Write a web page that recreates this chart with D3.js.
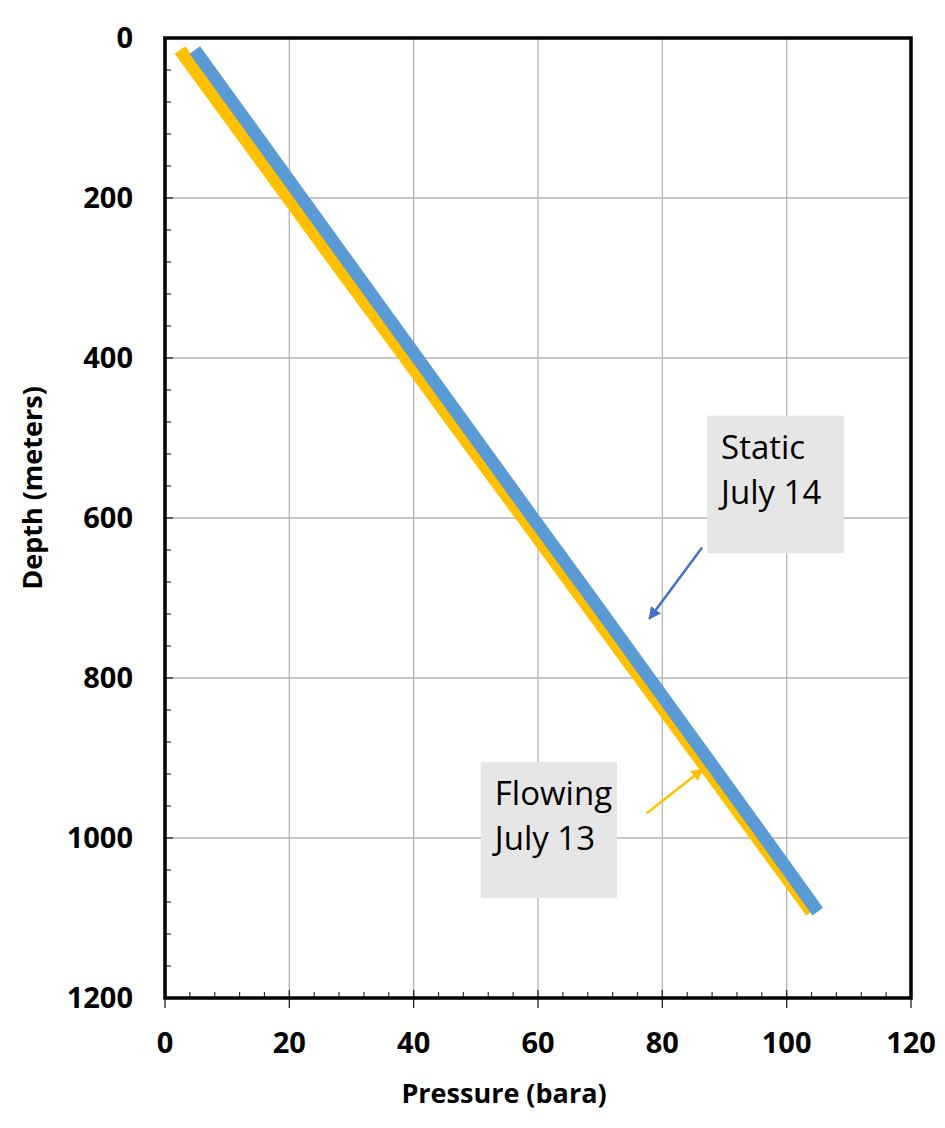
<!DOCTYPE html>
<html>
<head>
<meta charset="utf-8">
<script src="https://cdn.jsdelivr.net/npm/d3@7"></script>
<style>
  body { margin: 0; background: #fff; }
  text { font-family: "Open Sans", "Noto Sans", sans-serif; }
</style>
</head>
<body>
<div id="root"></div>
<script>
// readings (depth in m, pressure in bara)
const depths = [15, 100, 200, 300, 400, 500, 600, 700, 800, 900, 1000, 1092];
const staticPressure = [4.8, 12.7, 22.0, 31.3, 40.6, 49.9, 59.2, 68.6, 77.9, 87.2, 96.5, 105.0];
const flowingPressure = [2.4, 10.4, 19.8, 29.2, 38.7, 48.1, 57.6, 67.0, 76.4, 85.9, 95.3, 104.0];

const xTicks = [0, 20, 40, 60, 80, 100, 120];
const yTicks = [0, 200, 400, 600, 800, 1000, 1200];

const annotations = [
  { lines: ["Static", "July 14"], box: [87.2, 472, 109.2, 644], arrow: [[86.4, 637], [77.9, 726]], color: "#4472C4" },
  { lines: ["Flowing", "July 13"], box: [50.8, 905, 72.7, 1075], arrow: [[77.5, 969], [86.5, 914]], color: "#FFC000" }
];

function createChart() {
  const width = 945, height = 1128;
  const left = 165, right = 911, top = 38, bottom = 998;

  const x = d3.scaleLinear().domain([0, 120]).range([left, right]);
  const y = d3.scaleLinear().domain([0, 1200]).range([top, bottom]);

  const svg = d3.select("#root").append("svg")
    .attr("width", width)
    .attr("height", height);

  // grid
  svg.append("g").selectAll("line").data(xTicks.slice(1, -1)).enter().append("line")
    .attr("x1", d => x(d)).attr("x2", d => x(d))
    .attr("y1", top).attr("y2", bottom)
    .attr("stroke", "#b4b4b4").attr("stroke-width", 1.3);
  svg.append("g").selectAll("line").data(yTicks.slice(1, -1)).enter().append("line")
    .attr("y1", d => y(d)).attr("y2", d => y(d))
    .attr("x1", left).attr("x2", right)
    .attr("stroke", "#b4b4b4").attr("stroke-width", 1.3);

  // minor ticks (inside)
  const xMinor = d3.range(4, 120, 4).filter(d => d % 20 !== 0);
  svg.append("g").selectAll("line").data(xMinor).enter().append("line")
    .attr("x1", d => x(d)).attr("x2", d => x(d))
    .attr("y1", bottom).attr("y2", bottom - 6)
    .attr("stroke", "#333").attr("stroke-width", 1.2);
  const yMinor = d3.range(40, 1200, 40).filter(d => d % 200 !== 0);
  svg.append("g").selectAll("line").data(yMinor).enter().append("line")
    .attr("y1", d => y(d)).attr("y2", d => y(d))
    .attr("x1", left).attr("x2", left + 6)
    .attr("stroke", "#333").attr("stroke-width", 1.2);

  // major ticks crossing the axes
  svg.append("g").selectAll("line").data(xTicks).enter().append("line")
    .attr("x1", d => x(d)).attr("x2", d => x(d))
    .attr("y1", bottom - 8).attr("y2", bottom + 10)
    .attr("stroke", "#222").attr("stroke-width", 1.3);
  svg.append("g").selectAll("line").data(yTicks).enter().append("line")
    .attr("y1", d => y(d)).attr("y2", d => y(d))
    .attr("x1", left - 2).attr("x2", left + 8)
    .attr("stroke", "#222").attr("stroke-width", 1.3);

  // frame
  svg.append("rect")
    .attr("x", left).attr("y", top)
    .attr("width", right - left).attr("height", bottom - top)
    .attr("fill", "none").attr("stroke", "#000").attr("stroke-width", 3.5);

  // tick labels
  svg.append("g").selectAll("text").data(xTicks).enter().append("text")
    .attr("x", d => x(d)).attr("y", bottom + 55)
    .attr("text-anchor", "middle")
    .attr("font-size", 29).attr("font-weight", "bold")
    .text(d => d);
  svg.append("g").selectAll("text").data(yTicks).enter().append("text")
    .attr("x", left - 32).attr("y", d => y(d) + 10)
    .attr("text-anchor", "end")
    .attr("font-size", 29).attr("font-weight", "bold")
    .text(d => d);

  // axis titles
  svg.append("text")
    .attr("x", 504).attr("y", 1103)
    .attr("text-anchor", "middle")
    .attr("font-size", 27).attr("font-weight", "bold")
    .text("Pressure (bara)");
  svg.append("text")
    .attr("transform", "translate(42,488) rotate(-90)")
    .attr("text-anchor", "middle")
    .attr("font-size", 27).attr("font-weight", "bold")
    .text("Depth (meters)");

  // series
  const line = vals => d3.line()
    .x((d, i) => x(vals[i]))
    .y(d => y(d))(depths);

  svg.append("path")
    .attr("d", line(flowingPressure))
    .attr("fill", "none").attr("stroke", "#FFC000").attr("stroke-width", 13);
  svg.append("path")
    .attr("d", line(staticPressure))
    .attr("fill", "none").attr("stroke", "#5B9BD5").attr("stroke-width", 13);

  // annotations
  const defs = svg.append("defs");
  annotations.forEach((a, k) => {
    defs.append("marker")
      .attr("id", "arr" + k)
      .attr("viewBox", "0 0 10 10")
      .attr("refX", 9).attr("refY", 5)
      .attr("markerWidth", 5).attr("markerHeight", 5)
      .attr("orient", "auto")
      .append("path").attr("d", "M0,0 L10,5 L0,10 z").attr("fill", a.color);

    const [p0, d0, p1, d1] = a.box;
    svg.append("rect")
      .attr("x", x(p0)).attr("y", y(d0))
      .attr("width", x(p1) - x(p0)).attr("height", y(d1) - y(d0))
      .attr("fill", "#e6e6e6");
    a.lines.forEach((t, i) => {
      svg.append("text")
        .attr("x", x(p0) + 14).attr("y", y(d0) + 43 + i * 45)
        .attr("font-size", 33)
        .attr("fill", "#000")
        .text(t);
    });
    svg.append("line")
      .attr("x1", x(a.arrow[0][0])).attr("y1", y(a.arrow[0][1]))
      .attr("x2", x(a.arrow[1][0])).attr("y2", y(a.arrow[1][1]))
      .attr("stroke", a.color).attr("stroke-width", 2.5)
      .attr("marker-end", "url(#arr" + k + ")");
  });
}

createChart();
</script>
</body>
</html>
